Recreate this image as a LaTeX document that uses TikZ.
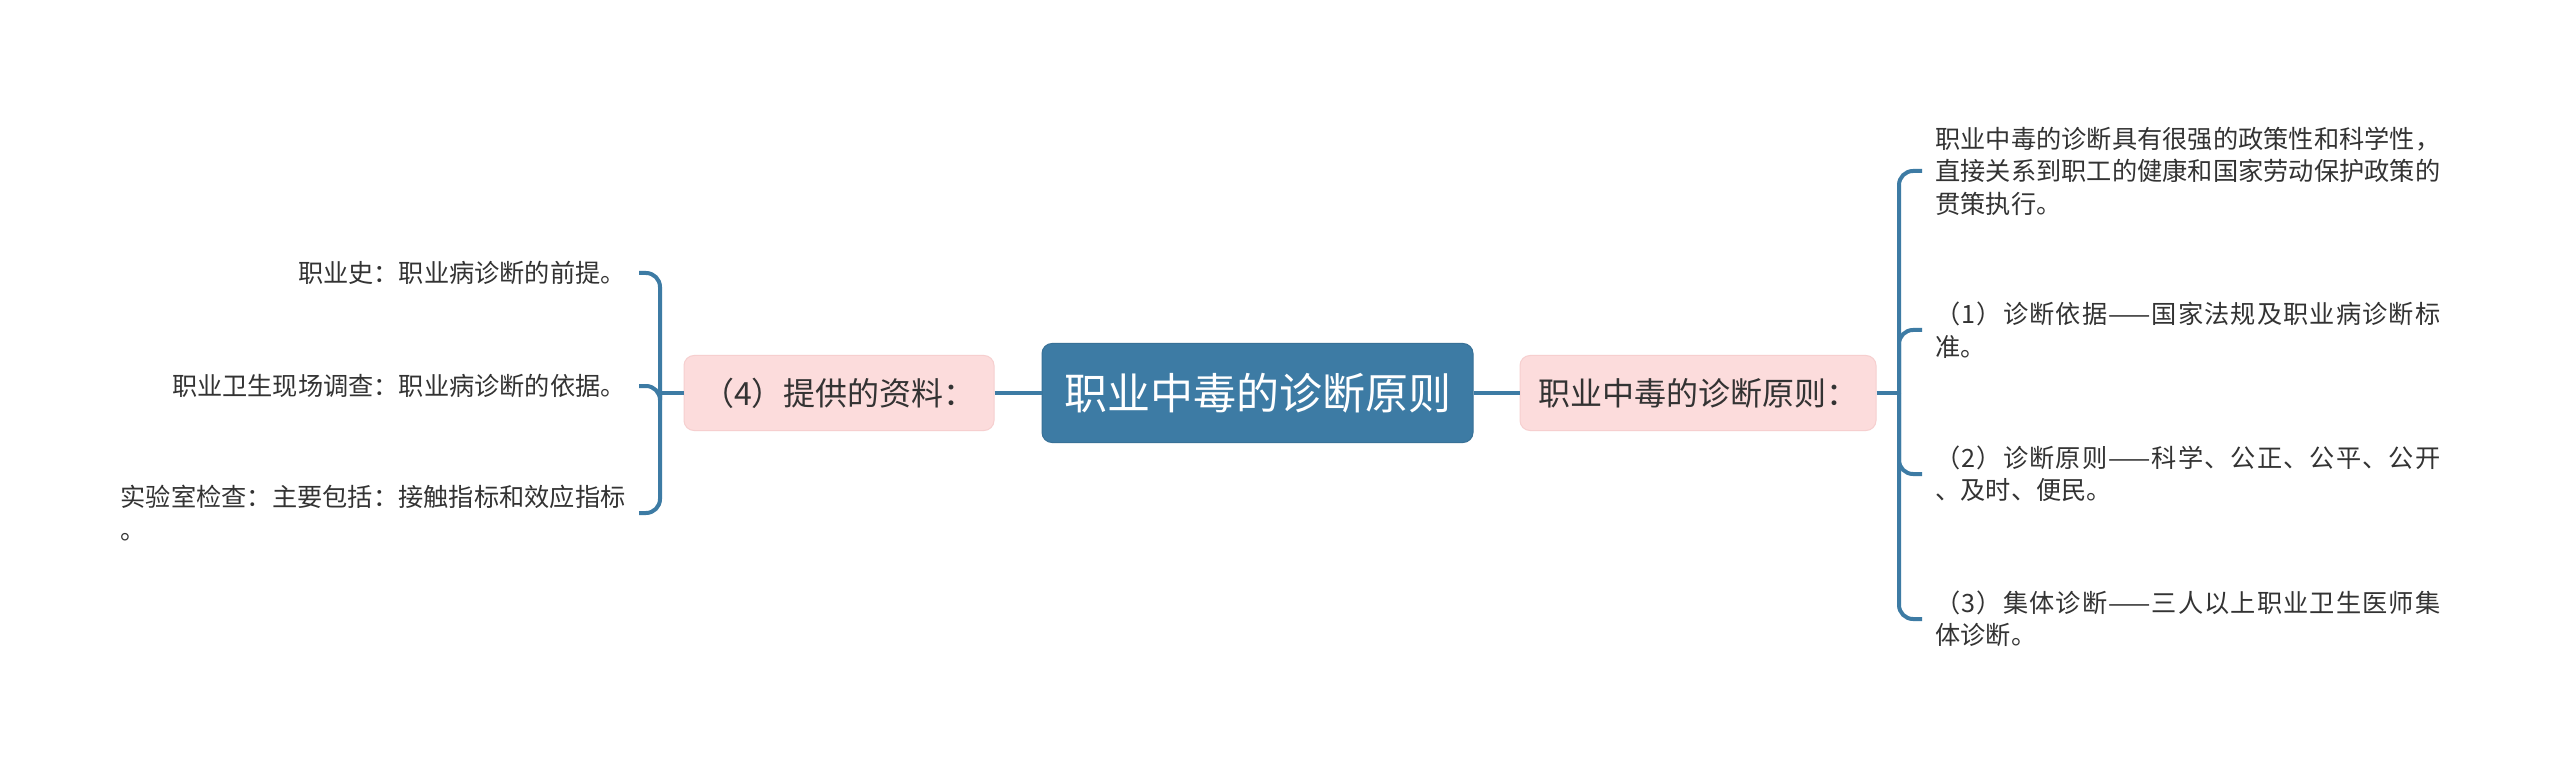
\documentclass[tikz,border=0pt]{standalone}
\usepackage{fontspec}
\setmainfont{Noto Sans CJK SC}
\definecolor{mblue}{HTML}{3D7BA4}
\definecolor{pinkf}{HTML}{FCDCDC}
\definecolor{pinkd}{HTML}{F6CFCF}
\definecolor{txt}{HTML}{333333}
\newcommand\spreadline[2]{\hbox to #1{\spreadaux#2\relax\unskip}}
\def\spreadaux#1{\ifx\relax#1\else#1\hfil\expandafter\spreadaux\fi}
\begin{document}
\begin{tikzpicture}[x=0.5pt,y=-0.5pt,
  conn/.style={draw=mblue,line width=2pt},
  branch/.style={conn,rounded corners=7pt},
  root/.style={rectangle,rounded corners=5pt,fill=mblue,draw=mblue!92!black,line width=0.5pt,text=white,font=\fontsize{21.5}{26}\selectfont,minimum height=49.5pt,inner sep=0pt},
  sub/.style={rectangle,rounded corners=5pt,fill=pinkf,draw=pinkd,line width=0.5pt,text=txt,font=\fontsize{16}{20}\selectfont,minimum height=37.5pt,inner sep=0pt},
  leaf/.style={text=txt,font=\fontsize{12.6}{16.25}\selectfont,inner xsep=6.5pt,inner ysep=0pt,align=left}]
\fill[white] (0,0) rectangle (2560,770);
\useasboundingbox (0,0) rectangle (2560,770);
\node[root,minimum width=215.5pt] (c) at (1257.5,393) {职业中毒的诊断原则};
\node[sub,minimum width=155pt] (lp) at (839,393) {（4）提供的资料：};
\node[sub,minimum width=178pt] (rp) at (1698,393) {职业中毒的诊断原则：};
\draw[conn] (lp.east) -- (c.west);
\draw[conn] (c.east) -- (rp.west);
% right branch
\coordinate (rb) at (1899,393);
\draw[conn] (rp.east) -- (rb);
\node[leaf,anchor=west] (r1) at (1922,171) {\spreadline{252.5pt}{职业中毒的诊断具有很强的政策性和科学性，}\\\spreadline{252.5pt}{直接关系到职工的健康和国家劳动保护政策的}\\贯策执行。};
\node[leaf,anchor=west] (r2) at (1922,330) {\spreadline{252.5pt}{（1）诊断依据{——}国家法规及职业病诊断标}\\准。};
\node[leaf,anchor=west] (r3) at (1922,474) {\spreadline{252.5pt}{（2）诊断原则{——}科学、公正、公平、公开}\\、及时、便民。};
\node[leaf,anchor=west] (r4) at (1922,619) {\spreadline{252.5pt}{（3）集体诊断{——}三人以上职业卫生医师集}\\体诊断。};
\foreach \n in {r1,r2,r3,r4} \draw[branch] (rb) |- (\n.west);
% left branch
\coordinate (lb) at (660,393);
\draw[conn] (lp.west) -- (lb);
\node[leaf,anchor=east] (l1) at (639,273) {职业史：职业病诊断的前提。};
\node[leaf,anchor=east] (l2) at (639,386) {职业卫生现场调查：职业病诊断的依据。};
\node[leaf,anchor=east] (l3) at (639,513) {\spreadline{252.5pt}{实验室检查：主要包括：接触指标和效应指标}\\。};
\foreach \n in {l1,l2,l3} \draw[branch] (lb) |- (\n.east);
\end{tikzpicture}
\end{document}
